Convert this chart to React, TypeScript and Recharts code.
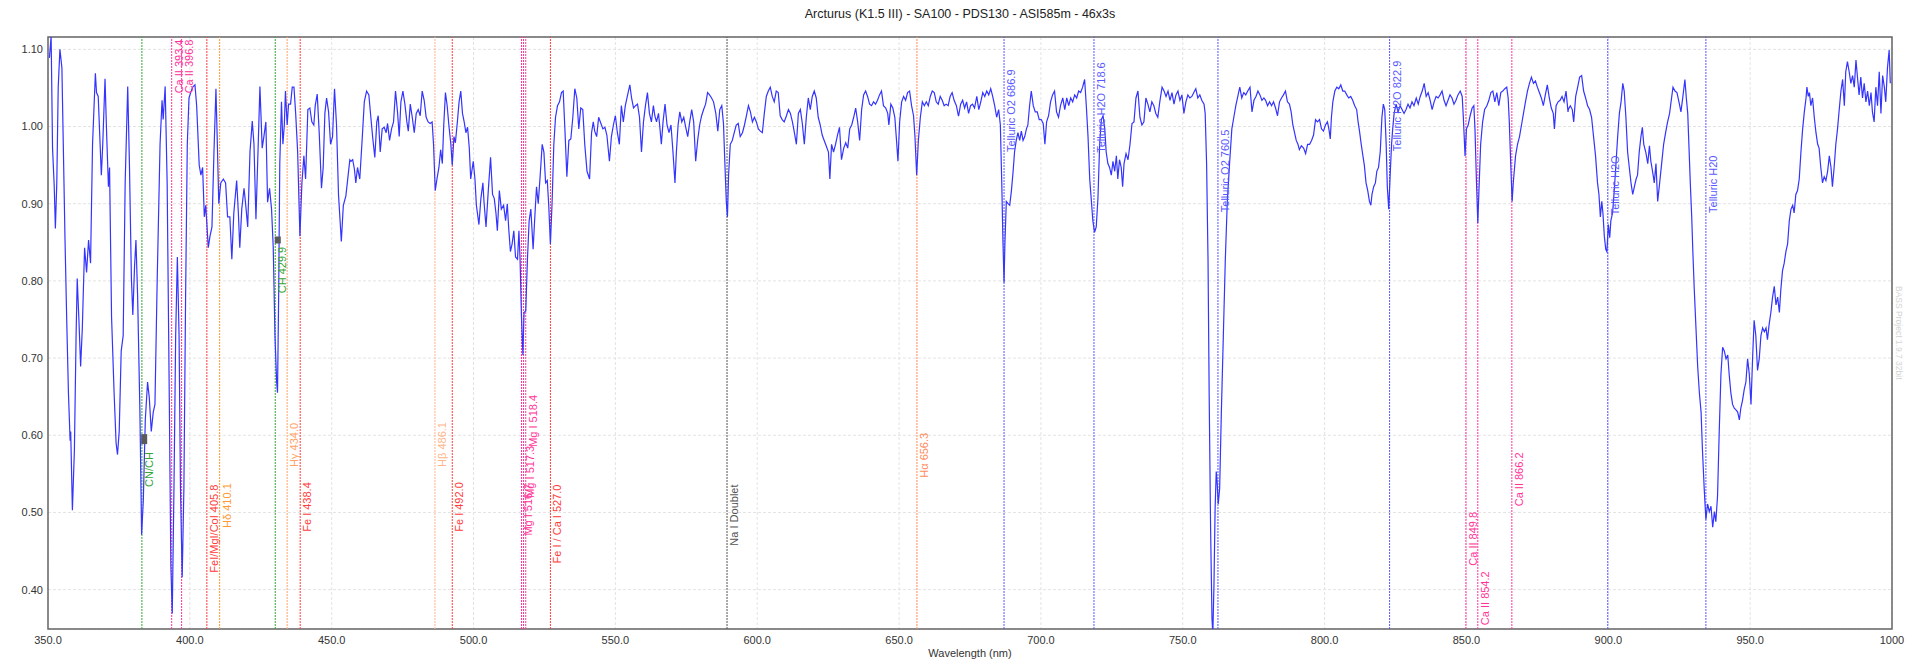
import React from 'react';
import {
  LineChart,
  Line,
  XAxis,
  YAxis,
  CartesianGrid,
  ReferenceLine,
  ReferenceDot,
  ReferenceArea,
} from 'recharts';

// ---- Spectrum (wavelength nm, relative flux) ----
const segA: [number, number][] = [
  [350.5,1.089],[351.1,1.117],[351.6,0.972],[352.2,0.922],[352.6,0.868],[353.1,0.927],[353.6,1.051],[354.2,1.100],[354.9,1.076],[356.0,0.853],[356.6,0.749],[357.2,0.655],[357.8,0.593],[358.0,0.605],[358.6,0.503],[359.3,0.580],[359.9,0.729],[360.3,0.803],[360.9,0.749],[361.5,0.689],[362.1,0.739],[362.4,0.779],[362.9,0.843],[363.6,0.811],[364.3,0.853],[365.0,0.823],[365.7,0.977],[366.7,1.069],[367.1,1.044],[367.7,1.039],[368.8,0.937],[369.3,0.977],[370.1,1.062],[370.7,0.987],[371.3,0.922],[371.7,0.947],[372.4,0.754],[373.3,0.655],[374.0,0.590],[374.5,0.575],[375.1,0.605],[375.8,0.709],[376.5,0.729],[377.2,0.927],[378.1,1.052],[378.7,0.952],[379.4,0.803],[379.9,0.756],[380.5,0.818],[381.0,0.853],[381.6,0.779],[382.4,0.630],[383.0,0.471],[383.6,0.516],[384.3,0.620],[385.1,0.669],[385.7,0.649],[386.4,0.605],[387.1,0.630],[387.7,0.640],[388.5,0.803],[389.5,0.977],[390.2,1.034],[390.6,1.009],[391.3,1.052],[392.0,0.927],[392.8,0.630],[393.3,0.432],[393.8,0.369],[394.4,0.531],[395.0,0.729],[395.6,0.831],[396.2,0.729],[396.7,0.531],[397.3,0.416],[397.9,0.531],[398.5,0.779],[399.1,0.977],[399.7,1.037],[400.3,1.044],[401.0,1.051],[401.8,1.054],[402.4,1.027],[403.3,0.950],[403.9,0.937],[404.5,0.947],[405.1,0.883],[405.6,0.898],[406.5,0.843],[407.1,0.858],[407.8,0.870],[408.5,0.967],[409.2,1.049],[409.7,0.977],[410.2,0.900],[410.9,0.927],[411.8,0.932],[412.6,0.927],[413.3,0.883],[414.1,0.883],[414.8,0.828],[415.5,0.888],[416.5,0.930],[417.1,0.888],[417.6,0.843],[418.3,0.893],[419.1,0.920],[419.6,0.902],[420.4,0.870],[421.2,0.967],[422.0,1.007],[422.6,0.977],[423.3,0.880],[424.1,0.977],[424.7,1.052],[425.5,0.972],[426.1,0.987],[426.8,1.006],[427.4,0.902],[428.1,0.920],[428.8,0.893],[429.4,0.843],[430.0,0.729],[430.6,0.669],[430.9,0.655],[431.3,0.779],[431.7,0.952],[432.3,1.032],[432.8,0.977],[433.3,1.002],[433.7,1.046],[434.3,1.002],[434.8,1.029],[435.5,1.029],[436.1,1.051],[436.7,1.051],[437.3,1.017],[438.0,0.967],[438.8,0.858],[439.5,0.927],[440.2,0.962],[440.8,0.932],[441.6,1.022],[442.3,1.024],[443.0,1.006],[443.7,1.002],[444.2,1.027],[444.9,1.042],[445.6,0.992],[446.4,0.920],[447.0,0.947],[447.6,1.017],[448.2,1.037],[448.9,1.019],[449.6,0.977],[450.3,0.987],[451.0,1.049],[451.7,1.002],[452.4,0.912],[453.4,0.851],[454.1,0.898],[455.0,0.910],[455.8,0.937],[456.4,0.957],
];

const segB: [number, number][] = [
  [456.8,0.955],[457.4,0.957],[458.0,0.945],[458.5,0.927],[459.1,0.947],[459.9,0.932],[460.8,0.987],[461.5,1.032],[462.3,1.046],[463.1,1.041],[463.8,1.012],[464.5,0.984],[465.2,0.960],[465.9,1.006],[466.4,1.014],[467.1,0.967],[467.8,0.997],[468.5,0.999],[469.2,0.992],[469.7,1.004],[470.4,0.982],[471.1,0.997],[471.8,1.006],[472.5,1.046],[473.2,1.019],[473.8,0.987],[474.4,1.032],[475.1,1.046],[475.8,1.029],[476.5,1.006],[477.0,0.994],[477.7,1.029],[478.4,1.012],[479.1,0.992],[479.8,1.017],[480.5,1.022],[481.2,1.014],[481.9,1.046],[482.6,1.034],[483.3,1.012],[484.0,1.006],[484.7,1.004],[485.4,1.006],[485.9,0.977],[486.5,0.917],[487.1,0.932],[487.8,0.947],[488.4,0.970],[489.0,0.952],[489.5,1.002],[490.1,1.044],[490.7,1.027],[491.3,1.002],[492.0,0.977],[492.5,0.950],[493.1,0.987],[493.6,0.979],[494.3,1.006],[494.9,1.032],[495.5,1.046],[496.1,1.017],[496.7,1.006],[497.3,0.992],[497.9,0.999],[498.5,0.972],[499.0,0.932],[499.9,0.955],[500.5,0.932],[501.0,0.898],[501.9,0.873],[502.6,0.907],[503.3,0.927],[503.7,0.902],[504.4,0.870],[505.2,0.917],[506.0,0.960],[506.7,0.912],[507.3,0.907],[507.9,0.888],[508.4,0.865],[509.1,0.917],[509.8,0.893],[510.6,0.898],[511.3,0.878],[511.9,0.900],[512.4,0.868],[513.0,0.838],[513.6,0.848],[514.2,0.865],[514.8,0.831],[515.5,0.828],[516.0,0.865],[516.4,0.828],[516.9,0.754],[517.4,0.704],[517.8,0.759],[518.4,0.761],[519.0,0.828],[519.6,0.878],[520.2,0.893],[521.0,0.841],[521.6,0.883],[522.2,0.922],[522.8,0.900],[523.5,0.937],[524.2,0.977],[524.8,0.967],[525.4,0.927],[526.0,0.930],[526.5,0.898],[527.1,0.848],[527.7,0.903],[528.3,0.977],[528.9,1.012],[529.6,1.027],[530.3,1.032],[531.0,1.044],[531.6,1.046],[532.2,0.997],[532.9,0.935],[533.6,0.982],[534.3,0.984],[535.0,1.012],[535.7,1.049],[536.4,1.037],[537.1,0.997],[537.8,1.024],[538.5,1.022],[539.2,0.977],[540.0,0.942],[540.9,0.932],[541.6,0.992],[542.2,1.006],[542.7,0.994],[543.4,0.987],[544.1,1.012],[544.9,1.004],[545.6,0.997],[546.3,0.999],[547.0,0.989],[547.9,0.955],[548.6,0.987],[549.3,1.002],[550.0,1.014],[550.7,0.992],[551.4,0.977],[552.1,1.027],[552.8,1.006],[553.5,1.027],[554.2,1.039],[555.1,1.054],[555.7,1.037],[556.4,1.024],[557.1,1.027],[557.8,1.029],[558.5,1.012],[559.2,0.967],[559.9,1.006],[560.6,1.027],[561.3,1.044],[562.0,1.017],[562.7,1.006],[563.4,1.027],[563.9,1.014],
];

const segC: [number, number][] = [
  [564.5,1.006],[565.2,1.017],[565.6,1.002],[566.2,0.977],[566.8,1.006],[567.5,1.029],[568.2,1.002],[568.9,0.992],[569.6,1.002],[570.3,0.967],[571.0,0.927],[571.5,0.967],[572.1,1.002],[572.7,1.019],[573.4,1.006],[574.1,1.012],[574.8,0.999],[575.5,0.987],[576.2,1.006],[576.9,1.022],[577.6,1.006],[578.3,0.955],[579.0,0.982],[579.7,1.002],[580.4,1.014],[581.1,1.022],[581.8,1.029],[582.5,1.044],[583.2,1.041],[583.9,1.037],[584.6,1.032],[585.4,1.017],[586.1,0.994],[586.8,1.022],[587.5,1.027],[588.1,1.004],[588.6,0.952],[589.1,0.903],[589.5,0.883],[589.9,0.937],[590.5,0.977],[591.2,0.982],[591.9,0.992],[592.6,1.002],[593.3,1.004],[594.0,0.987],[594.8,0.992],[595.5,1.002],[596.2,1.014],[596.9,1.027],[597.6,1.019],[598.3,1.006],[599.0,1.012],[599.7,1.006],[600.4,0.997],[601.1,0.994],[601.8,0.992],[602.5,1.017],[603.2,1.039],[603.9,1.046],[604.6,1.051],[605.3,1.039],[606.0,1.032],[606.7,1.046],[607.4,1.044],[608.1,1.014],[608.8,1.009],[609.5,1.006],[610.3,1.014],[611.0,1.022],[611.7,1.017],[612.4,1.006],[613.1,0.992],[613.8,0.977],[614.5,1.017],[615.2,1.022],[615.9,1.004],[616.6,0.977],[617.3,1.012],[618.0,1.037],[618.7,1.022],[619.4,1.039],[620.1,1.046],[620.8,1.037],[621.5,1.012],[622.2,1.002],[622.9,0.989],[623.6,0.982],[624.3,0.975],[625.1,0.967],[625.6,0.932],[626.2,0.977],[626.9,0.967],[627.6,0.977],[628.3,0.989],[629.0,0.999],[629.7,0.957],[630.5,0.972],[631.2,0.979],[631.9,0.972],[632.6,0.997],[633.3,1.002],[634.0,1.012],[634.7,1.024],[635.4,1.006],[636.1,0.982],[636.8,1.022],[637.5,1.041],[638.2,1.046],[638.9,1.039],[639.6,1.029],[640.3,1.027],[641.0,1.032],[641.7,1.029],[642.4,1.034],[643.1,1.041],[643.8,1.046],[644.5,1.027],[645.3,1.024],[646.0,1.017],[646.4,1.002],[647.1,1.029],[647.8,1.024],[648.5,1.012],[649.1,0.982],[649.6,0.955],[650.2,1.006],[650.9,1.032],[651.6,1.039],[652.3,1.034],[653.0,1.044],[653.7,1.046],[654.4,1.027],[655.1,1.014],[655.6,0.987],[656.2,0.937],[656.8,0.982],[657.5,1.012],[658.2,1.032],[658.9,1.027],[659.6,1.032],[660.3,1.027],[661.0,1.039],[661.7,1.046],[662.4,1.044],[663.1,1.032],[663.8,1.029],[664.5,1.039],[665.2,1.034],[665.9,1.027],[666.6,1.029],[667.3,1.027],[668.0,1.039],[668.7,1.044],[669.4,1.034],[670.2,1.027],[670.9,1.014],
];

const segD: [number, number][] = [
  [671.0,1.014],[671.7,1.029],[672.4,1.034],[673.1,1.024],[673.8,1.032],[674.5,1.017],[675.2,1.027],[675.9,1.029],[676.6,1.024],[677.4,1.039],[678.1,1.022],[678.8,1.032],[679.5,1.044],[680.2,1.039],[680.9,1.046],[681.6,1.041],[682.3,1.049],[683.0,1.039],[683.7,1.027],[684.4,1.012],[685.1,1.022],[685.7,1.002],[686.2,0.927],[686.6,0.853],[687.0,0.798],[687.3,0.848],[687.8,0.903],[688.4,0.900],[689.0,0.898],[689.6,0.917],[690.2,0.942],[690.7,0.967],[691.3,0.982],[691.9,0.992],[692.5,0.982],[693.1,0.994],[693.7,0.982],[694.3,0.987],[694.9,0.997],[695.4,1.002],[696.0,1.027],[696.6,1.046],[697.3,1.027],[698.0,1.019],[698.7,1.019],[699.4,1.009],[700.1,1.009],[700.8,1.004],[701.4,0.977],[702.0,1.006],[702.7,1.014],[703.4,1.032],[704.1,1.041],[704.8,1.046],[705.5,1.019],[706.2,1.012],[706.9,1.027],[707.7,1.037],[708.4,1.022],[709.1,1.037],[709.8,1.027],[710.5,1.037],[711.2,1.032],[711.9,1.041],[712.6,1.037],[713.3,1.046],[714.0,1.044],[714.7,1.051],[715.4,1.061],[716.0,1.027],[716.6,0.987],[717.2,0.932],[717.8,0.903],[718.3,0.878],[718.9,0.863],[719.5,0.870],[720.1,0.907],[720.7,0.977],[721.3,1.009],[721.9,1.014],[722.5,0.997],[723.0,0.967],[723.6,0.952],[724.2,0.947],[724.8,0.937],[725.4,0.955],[726.0,0.942],[726.6,0.962],[727.1,0.932],[727.7,0.957],[728.3,0.947],[728.8,0.922],[729.3,0.952],[730.0,0.965],[730.7,0.957],[731.4,0.977],[732.1,1.004],[732.8,1.006],[733.5,1.037],[734.2,1.046],[734.9,1.012],[735.6,1.002],[736.3,1.006],[737.0,1.037],[737.7,1.029],[738.4,1.019],[739.1,1.032],[739.8,1.027],[740.5,1.017],[741.2,1.012],[741.9,1.032],[742.7,1.051],[743.4,1.046],[744.1,1.039],[744.8,1.046],[745.5,1.034],[746.2,1.044],[746.9,1.029],[747.6,1.041],[748.3,1.046],[749.0,1.034],[749.7,1.041],[750.4,1.017],[751.1,1.032],[751.8,1.041],[752.5,1.037],[753.2,1.039],[753.9,1.044],[754.6,1.049],[755.3,1.037],[756.0,1.041],[756.7,1.034],[757.5,1.029],[757.9,1.017],[758.4,0.952],[758.9,0.828],[759.3,0.655],[759.8,0.481],[760.3,0.362],[760.6,0.343],[761.0,0.407],[761.4,0.505],[761.8,0.553],[762.1,0.540],[762.5,0.511],[763.0,0.531],[763.6,0.630],[764.3,0.729],[765.0,0.828],[765.7,0.903],[766.5,0.952],[767.3,0.997],[768.0,1.012],[768.7,1.027],[769.4,1.039],[770.1,1.051],[770.8,1.037],[771.5,1.044],[772.2,1.041],[772.9,1.046],[773.7,1.051],[774.4,1.019],[775.1,1.034],[775.8,1.039],[776.5,1.046],[777.2,1.041],[777.9,1.034],[778.6,1.037],
];

const segE: [number, number][] = [
  [779.2,1.034],[779.9,1.027],[780.6,1.032],[781.3,1.027],[782.0,1.032],[782.7,1.024],[783.4,1.014],[784.1,1.032],[784.8,1.037],[785.5,1.041],[786.2,1.046],[786.9,1.032],[787.6,1.029],[788.2,1.019],[788.8,1.002],[789.4,0.992],[790.0,0.982],[790.6,0.977],[791.1,0.970],[791.8,0.975],[792.6,0.972],[793.3,0.965],[794.0,0.977],[794.7,0.977],[795.4,0.982],[796.1,0.989],[796.8,1.009],[797.5,1.006],[798.2,1.009],[798.9,0.997],[799.6,0.994],[800.3,1.002],[801.0,1.006],[801.5,0.997],[802.0,0.984],[802.4,1.012],[802.9,1.032],[803.6,1.046],[804.3,1.051],[805.0,1.049],[805.7,1.054],[806.4,1.046],[807.1,1.046],[807.8,1.041],[808.5,1.037],[809.2,1.039],[809.9,1.034],[810.6,1.027],[811.3,1.022],[811.8,1.006],[812.3,0.994],[812.9,0.977],[813.5,0.962],[814.0,0.950],[814.6,0.927],[815.2,0.917],[815.8,0.903],[816.3,0.898],[816.7,0.912],[817.3,0.922],[817.9,0.927],[818.4,0.942],[819.0,0.947],[819.6,0.967],[820.2,1.012],[820.7,1.029],[821.2,1.022],[821.7,0.977],[822.1,0.922],[822.6,0.893],[823.1,0.937],[823.6,0.977],[824.0,0.997],[824.5,1.017],[825.2,1.029],[825.9,1.019],[826.6,1.027],[827.3,1.022],[828.0,1.017],[828.7,1.022],[829.4,1.029],[830.1,1.024],[830.8,1.032],[831.5,1.027],[832.3,1.037],[833.0,1.029],[833.7,1.039],[834.4,1.046],[835.1,1.056],[835.8,1.039],[836.5,1.044],[837.2,1.034],[837.9,1.022],[838.6,1.032],[839.3,1.039],[840.0,1.037],[840.7,1.041],[841.4,1.046],[842.1,1.034],[842.8,1.027],[843.5,1.034],[844.2,1.041],[844.9,1.037],[845.6,1.029],[846.3,1.034],[847.0,1.041],[847.8,1.046],[848.5,1.039],[848.9,1.012],[849.5,0.962],[850.0,0.997],[850.6,1.002],[851.3,1.014],[852.0,1.024],[852.6,1.027],[853.0,0.997],[853.5,0.932],[854.0,0.875],[854.4,0.917],[855.0,0.977],[855.7,1.006],[856.4,1.022],[857.2,1.027],[857.9,1.034],[858.6,1.044],[859.3,1.046],[860.0,1.032],[860.7,1.044],[861.4,1.027],[862.1,1.044],[862.8,1.046],[863.5,1.049],[864.2,1.051],[864.7,1.037],[865.1,1.006],[865.6,0.952],[866.1,0.903],[866.5,0.927],[867.3,0.962],[868.0,0.977],[868.7,0.987],[869.4,1.002],[870.1,1.017],[870.8,1.032],[871.5,1.046],[872.2,1.056],[872.9,1.064],[873.6,1.056],[874.3,1.059],[875.0,1.051],[875.7,1.044],[876.4,1.037],[877.1,1.027],[877.8,1.041],[878.5,1.054],[879.2,1.037],[879.9,1.024],[880.6,1.017],[881.0,0.997],[881.6,1.027],[882.3,1.032],[883.0,1.034],[883.7,1.039],[884.4,1.032],[885.1,1.046],[885.8,1.019],
];

const segF: [number, number][] = [
  [885.9,1.022],[886.6,1.027],[887.3,1.022],[887.8,1.006],[888.5,1.039],[889.2,1.051],[889.9,1.064],[890.6,1.066],[891.3,1.046],[892.0,1.037],[892.7,1.027],[893.4,1.022],[894.1,1.012],[894.8,0.987],[895.5,0.962],[896.2,0.927],[896.7,0.912],[897.2,0.883],[897.7,0.903],[898.1,0.888],[898.6,0.858],[899.1,0.841],[899.5,0.838],[900.0,0.873],[900.5,0.856],[900.9,0.878],[901.5,0.888],[902.1,0.917],[902.7,0.952],[903.3,0.987],[903.9,1.017],[904.5,1.032],[905.1,1.056],[905.6,1.046],[906.2,1.012],[906.8,0.967],[907.4,0.947],[908.0,0.927],[908.6,0.912],[909.2,0.922],[909.8,0.932],[910.3,0.937],[910.9,0.967],[911.5,0.987],[912.0,0.999],[912.5,0.977],[913.2,0.967],[913.9,0.952],[914.5,0.975],[915.0,0.955],[915.6,0.942],[916.2,0.927],[916.8,0.952],[917.4,0.903],[918.1,0.927],[918.8,0.952],[919.5,0.977],[920.2,0.992],[920.9,1.006],[921.6,1.017],[922.3,1.037],[922.8,1.051],[923.5,1.046],[924.2,1.044],[924.9,1.032],[925.6,1.019],[926.3,1.039],[927.0,1.061],[927.5,1.037],[928.0,1.017],[928.4,0.977],[928.9,0.927],[929.4,0.883],[929.8,0.838],[930.3,0.789],[930.9,0.739],[931.5,0.689],[932.1,0.655],[932.7,0.630],[933.2,0.580],[933.8,0.531],[934.4,0.491],[935.0,0.511],[935.6,0.501],[936.2,0.508],[936.8,0.481],[937.4,0.501],[937.9,0.488],[938.5,0.521],[939.1,0.605],[939.7,0.679],[940.3,0.714],[940.9,0.709],[941.5,0.699],[942.1,0.704],[942.6,0.679],[943.2,0.655],[943.8,0.640],[944.4,0.635],[945.0,0.633],[945.6,0.630],[946.2,0.620],[946.7,0.635],[947.3,0.645],[947.9,0.659],[948.5,0.669],[949.1,0.699],[949.7,0.679],[950.3,0.640],[950.9,0.704],[951.4,0.749],[952.0,0.729],[952.6,0.684],[953.2,0.699],[953.8,0.729],[954.4,0.739],[955.0,0.734],[955.6,0.739],[956.1,0.724],[956.7,0.744],[957.3,0.759],[957.9,0.779],[958.5,0.793],[959.1,0.769],[959.7,0.779],[960.3,0.759],[960.8,0.788],[961.4,0.813],[962.0,0.823],[962.6,0.838],[963.2,0.848],[963.8,0.878],[964.4,0.893],[965.0,0.898],[965.5,0.888],[966.1,0.912],[966.7,0.917],[967.3,0.932],[967.9,0.967],[968.5,0.997],[969.1,1.019],[969.7,1.037],[970.0,1.051],[970.5,1.039],[970.9,1.044],[971.4,1.027],[972.0,1.037],[972.6,1.012],[973.2,0.992],[973.8,0.977],[974.3,0.972],[974.9,0.947],[975.5,0.927],[976.1,0.935],[976.7,0.930],[977.3,0.942],[977.9,0.962],[978.5,0.947],[979.0,0.922],[979.6,0.947],[980.2,0.977],[980.8,0.997],[981.4,1.022],[982.0,1.046],[982.6,1.061],[983.2,1.027],[983.7,1.071],[984.3,1.084],[984.9,1.071],[985.5,1.056],[986.1,1.066],[986.7,1.051],[987.3,1.086],[987.9,1.061],[988.4,1.041],[989.0,1.064],[989.6,1.037],[990.2,1.056],[990.8,1.032],[991.4,1.046],[992.0,1.027],[992.6,1.044],[993.1,1.019],[993.7,1.006],[994.3,1.051],[994.9,1.027],[995.5,1.071],[996.1,1.017],[996.7,1.066],[997.3,1.051],[997.8,1.032],[998.4,1.076],[999.0,1.099],[999.4,1.056],
];

// ---- Axes ----
const xTicks = [350, 400, 450, 500, 550, 600, 650, 700, 750, 800, 850, 900, 950, 1000];
const yTicks = [0.4, 0.5, 0.6, 0.7, 0.8, 0.9, 1.0, 1.1];
const xDomain: [number, number] = [350, 1000];
const yDomain: [number, number] = [0.349, 1.116];

// ---- Line identifications ----
const GREEN = '#34a534';
const PINK = '#ff3399';
const RED = '#ff3b3b';
const ORANGE = '#ff9933';
const PEACH = '#ffa466';
const LIGHTPEACH = '#ffb58a';
const SALMON = '#ff8a5c';
const BLUE = '#5858ff';
const GRAY = '#555555';

const lineWl = [383.1, 393.6, 397.1, 406.0, 410.5, 430.1, 434.3, 438.9, 486.4, 492.5, 516.9, 517.6, 518.4, 527.1, 589.35, 656.3, 687.0, 718.7, 762.4, 822.9, 849.8, 854.0, 866.0, 899.8, 934.4];
const lineText = ['CN/CH', 'Ca II 393.4', 'Ca II 396.8', 'FeI/MgI/CoI 405.8', 'Hδ 410.1', 'CH 429.9', 'Hγ 434.0', 'Fe I 438.4', 'Hβ 486.1', 'Fe I 492.0', 'Mg I 516.7', 'Mg I 517.3', 'Mg I 518.4', 'Fe I / Ca I 527.0', 'Na I Doublet', 'Hα 656.3', 'Telluric O2 686.9', 'Telluric H2O 718.6', 'Telluric O2 760.5', 'Telluric H2O 822.9', 'Ca II 849.8', 'Ca II 854.2', 'Ca II 866.2', 'Telluric H2O', 'Telluric H20'];
const lineColor = [GREEN, PINK, PINK, RED, ORANGE, GREEN, PEACH, RED, LIGHTPEACH, RED, PINK, PINK, PINK, RED, GRAY, SALMON, BLUE, BLUE, BLUE, BLUE, PINK, PINK, PINK, BLUE, BLUE];
// flux level where each rotated label starts (its bottom end)
const labelStart = [0.533, 1.043, 1.043, 0.422, 0.48, 0.784, 0.559, 0.475, 0.559, 0.475, 0.47, 0.519, 0.585, 0.434, 0.457, 0.545, 0.967, 0.966, 0.889, 0.968, 0.431, 0.354, 0.508, 0.885, 0.888];

// small grey markers of the measurement tool
const markerPts: [number, number][] = [[383.9, 0.595], [431.0, 0.853]];

const FONT = '"Liberation Sans", Arial, Helvetica, sans-serif';

const spectrum = [...segA, ...segB, ...segC, ...segD, ...segE, ...segF].map(([wl, flux]) => ({ wl, flux }));

const fmtX = (v: number) => (v >= 1000 ? String(v) : v.toFixed(1));
const fmtY = (v: number) => v.toFixed(2);

export default function App() {
  return (
    <div style={{ position: 'absolute', left: 0, top: 0, width: 1920, height: 665, background: '#fff' }}>
      <LineChart
        width={1920}
        height={665}
        data={spectrum}
        margin={{ top: 37, right: 28, bottom: 6, left: 8 }}
      >
        <CartesianGrid stroke="#e3e3e3" strokeDasharray="3 2" />
        <XAxis
          dataKey="wl"
          type="number"
          domain={xDomain}
          ticks={xTicks}
          allowDataOverflow
          tickFormatter={fmtX}
          axisLine={false}
          tickLine={false}
          tickSize={0}
          tickMargin={7}
          height={30}
          interval={0}
          tick={{ fontSize: 11, fill: '#333', fontFamily: FONT }}
        />
        <YAxis
          type="number"
          domain={yDomain}
          ticks={yTicks}
          allowDataOverflow
          tickFormatter={fmtY}
          axisLine={false}
          tickLine={false}
          tickSize={0}
          tickMargin={5}
          width={40}
          interval={0}
          tick={{ fontSize: 11, fill: '#333', fontFamily: FONT }}
        />
        {lineWl.map((wl, i) => (
          <ReferenceLine
            key={`rl${i}`}
            x={wl}
            stroke={lineColor[i]}
            strokeDasharray="2 1"
            strokeWidth={1}
          />
        ))}
        <Line
          type="linear"
          dataKey="flux"
          stroke="#3434ff"
          strokeWidth={1.2}
          dot={false}
          isAnimationActive={false}
        />
        {lineWl.map((wl, i) => (
          <ReferenceDot
            key={`lb${i}`}
            x={wl}
            y={labelStart[i]}
            r={0}
            ifOverflow="visible"
            shape={(p: any) => {
              const tx = p.cx + 11;
              const ty = p.cy;
              return (
                <text
                  x={tx}
                  y={ty}
                  transform={`rotate(-90 ${tx} ${ty})`}
                  fill={lineColor[i]}
                  fontSize={11}
                  fontFamily={FONT}
                >
                  {lineText[i]}
                </text>
              );
            }}
          />
        ))}
        {markerPts.map(([wl, f], i) => (
          <ReferenceDot
            key={`mk${i}`}
            x={wl}
            y={f}
            r={0}
            ifOverflow="visible"
            shape={(p: any) => (
              <rect x={p.cx - 3} y={p.cy - (i === 0 ? 5 : 3.5)} width={6} height={i === 0 ? 10 : 7} fill="#5a5a5a" />
            )}
          />
        ))}
        <ReferenceArea
          x1={xDomain[0]}
          x2={xDomain[1]}
          y1={yDomain[0]}
          y2={yDomain[1]}
          fill="none"
          fillOpacity={0}
          stroke="#666"
          strokeWidth={1.5}
          ifOverflow="visible"
        />
      </LineChart>
      <svg
        width={1920}
        height={665}
        style={{ position: 'absolute', left: 0, top: 0, pointerEvents: 'none' }}
      >
        <text x={960} y={17.5} textAnchor="middle" fontSize={12.5} fontFamily={FONT} fill="#222">
          Arcturus (K1.5 III) - SA100 - PDS130 - ASI585m - 46x3s
        </text>
        <text x={970} y={657} textAnchor="middle" fontSize={11} fontFamily={FONT} fill="#333">
          Wavelength (nm)
        </text>
        <text x={1896} y={286} transform="rotate(90 1896 286)" fontSize={8.5} fontFamily={FONT} fill="#d4d4d4">
          BASS Project 1.9.7 32bit
        </text>
      </svg>
    </div>
  );
}
